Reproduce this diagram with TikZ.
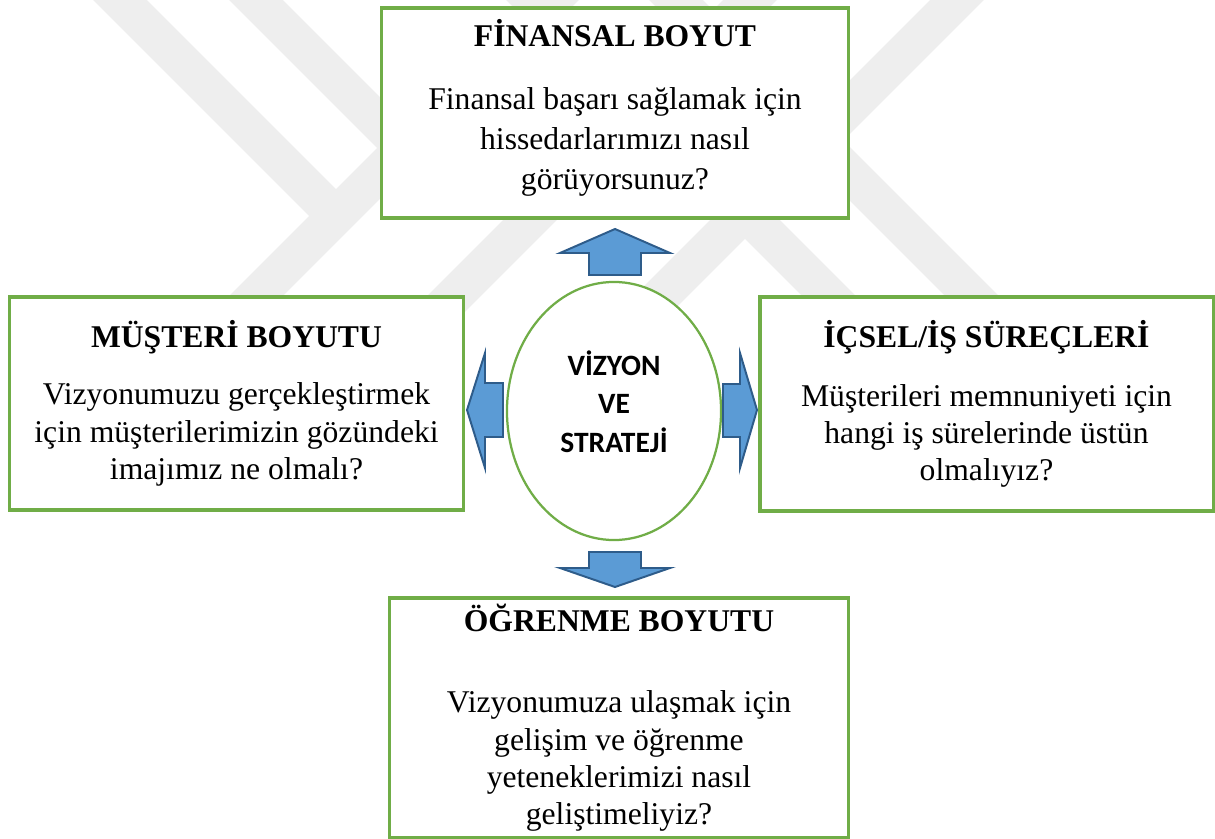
\documentclass[tikz,border=0pt]{standalone}
\usepackage{fontspec}
\setmainfont{Liberation Serif}
\newfontfamily\calibri{Carlito}
\usetikzlibrary{shapes.geometric}
\definecolor{boxgreen}{HTML}{70AD47}
\definecolor{arrowblue}{HTML}{5B9BD5}
\definecolor{arrowedge}{HTML}{2E5C8A}
\definecolor{wmgray}{HTML}{EEEEEE}

\begin{document}
\begin{tikzpicture}[x=0.025cm, y=-0.025cm,
    box/.style={draw=boxgreen, line width=2.2pt, fill=white, align=center, inner sep=0pt,
      font=\fontsize{22.5}{26.5}\selectfont},
    barrow/.style={draw=arrowedge, line width=1.4pt, fill=arrowblue, line join=miter},
    band/.style={wmgray, line width=0.95cm}]
  \useasboundingbox (0,0) rectangle (1215,839);

  % Filigran
  \draw[band] (100,-20) -- (336,216);
  \draw[band] (572,-20) -- (200,352);
  \draw[band] (236,-20) -- (450,194);
  \draw[band] (977,-20) -- (607,350);
  \draw[band] (513,-20) -- (860,327);
  \draw[band] (656,-20) -- (1050,374);
  \draw[band] (770,-20) -- (440,310);

  % Kutular
  \node[box, minimum width=11.65cm, minimum height=5.25cm, text depth=12pt,
    font=\fontsize{22.5}{28.4}\selectfont] (finansal) at (615,113)
    {\textbf{FİNANSAL BOYUT}\\[16pt] Finansal başarı sağlamak için\\ hissedarlarımızı nasıl\\ görüyorsunuz?};
  \node[box, minimum width=11.325cm, minimum height=5.325cm] (musteri) at (236.5,403.5)
    {\textbf{MÜŞTERİ BOYUTU}\\[14pt] Vizyonumuzu gerçekleştirmek\\ için müşterilerimizin gözündeki\\ imajımız ne olmalı?};
  \node[box, minimum width=11.325cm, minimum height=5.35cm] (icsel) at (986.5,404)
    {\textbf{İÇSEL/İŞ SÜREÇLERİ}\\[15pt] Müşterileri memnuniyeti için\\ hangi iş sürelerinde üstün\\ olmalıyız?};
  \node[box, minimum width=11.45cm, minimum height=6cm] (ogrenme) at (619,718)
    {\textbf{ÖĞRENME BOYUTU}\\[31pt] Vizyonumuza ulaşmak için\\ gelişim ve öğrenme\\ yeteneklerimizi nasıl\\ geliştimeliyiz?};

  % Merkez
  \node[draw=boxgreen, line width=1.6pt, ellipse, fill=white, inner sep=0pt,
    minimum width=5.35cm, minimum height=6.45cm] (vizyon) at (614,411) {};
  \node[align=center, font=\calibri\bfseries\fontsize{21}{27.4}\selectfont]
    (vizyonyazi) at ([yshift=0.24cm]vizyon.center) {VİZYON\\VE\\STRATEJİ};

  % Oklar
  \draw[barrow] (589,275) -- (589,253) -- (560,253) -- (615,229) -- (670,253) -- (641,253) -- (641,275) -- cycle;
  \draw[barrow] (589,552) -- (589,568) -- (560,568) -- (615,587) -- (670,568) -- (641,568) -- (641,552) -- cycle;
  \draw[barrow] (503,383) -- (485,383) -- (485,353) -- (467,410) -- (485,468) -- (485,437) -- (503,437) -- cycle;
  \draw[barrow] (723,384) -- (740,384) -- (740,353) -- (757,410) -- (740,468) -- (740,437) -- (723,437) -- cycle;
\end{tikzpicture}
\end{document}
